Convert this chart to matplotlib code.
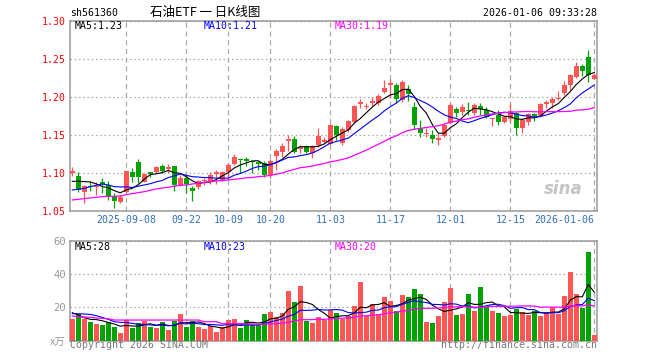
import matplotlib
matplotlib.use("Agg")
import matplotlib.pyplot as plt
import numpy as np
import pandas as pd

# ---------------- data ----------------
holidays = ['2025-10-01', '2025-10-02', '2025-10-03', '2025-10-06', '2025-10-07',
            '2025-10-08', '2026-01-01', '2026-01-02']
dates = [d for d in pd.bdate_range('2025-08-26', '2026-01-06')
         if d.strftime('%Y-%m-%d') not in holidays]

opens = [1.1004, 1.0960, 1.0754, 1.0833, 1.0820, 1.0882, 1.0846, 1.0697, 1.0614, 1.0754,
         1.1018, 1.1145, 1.0886, 1.1008, 1.1008, 1.1092, 1.1053, 1.1092, 1.0842, 1.0939,
         1.0807, 1.0811, 1.0895, 1.0886, 1.0987, 1.0908, 1.1009, 1.1118, 1.1184, 1.1184,
         1.1149, 1.1149, 1.1127, 1.0974, 1.1224, 1.1281, 1.1426, 1.1452, 1.1311, 1.1355,
         1.1268, 1.1368, 1.1412, 1.1382, 1.1623, 1.1390, 1.1566, 1.1675, 1.1904, 1.1864,
         1.1925, 1.1925, 1.2057, 1.2160, 1.2158, 1.1960, 1.2101, 1.1860, 1.1588, 1.1518,
         1.1495, 1.1430, 1.1482, 1.1654, 1.1845, 1.1798, 1.1829, 1.1785, 1.1882, 1.1829,
         1.1711, 1.1763, 1.1675, 1.1706, 1.1794, 1.1588, 1.1675, 1.1772, 1.1754, 1.1912,
         1.1925, 1.1974, 1.2048, 1.2149, 1.2254, 1.2408, 1.2518, 1.2237]
highs = [1.1079, 1.1013, 1.0837, 1.0895, 1.0882, 1.0930, 1.0895, 1.0741, 1.0711, 1.1031,
         1.1061, 1.1184, 1.1004, 1.1018, 1.1092, 1.1118, 1.1114, 1.1092, 1.0974, 1.0974,
         1.0829, 1.0908, 1.0930, 1.1013, 1.1039, 1.1031, 1.1127, 1.1250, 1.1184, 1.1215,
         1.1158, 1.1158, 1.1158, 1.1180, 1.1316, 1.1399, 1.1496, 1.1487, 1.1368, 1.1368,
         1.1368, 1.1588, 1.1478, 1.1640, 1.1632, 1.1610, 1.1697, 1.1890, 1.1974, 1.1925,
         1.1996, 1.2035, 1.2224, 1.2240, 1.2180, 1.2215, 1.2158, 1.1935, 1.1697, 1.1588,
         1.1566, 1.1522, 1.1645, 1.1917, 1.1864, 1.1904, 1.1934, 1.1917, 1.1917, 1.1860,
         1.1728, 1.1829, 1.1741, 1.1917, 1.1807, 1.1728, 1.1785, 1.1785, 1.1917, 1.1961,
         1.2004, 1.2079, 1.2202, 1.2303, 1.2456, 1.2430, 1.2618, 1.2311]
lows = [1.0960, 1.0745, 1.0609, 1.0763, 1.0711, 1.0732, 1.0645, 1.0544, 1.0605, 1.0732,
        1.0877, 1.0864, 1.0877, 1.0943, 1.0996, 1.0996, 1.0996, 1.0767, 1.0829, 1.0741,
        1.0636, 1.0794, 1.0842, 1.0855, 1.0855, 1.0899, 1.0908, 1.1105, 1.0996, 1.1092,
        1.1004, 1.1039, 1.0952, 1.0930, 1.1039, 1.1215, 1.1294, 1.1259, 1.1268, 1.1268,
        1.1202, 1.1338, 1.1390, 1.1368, 1.1434, 1.1368, 1.1544, 1.1662, 1.1851, 1.1838,
        1.1881, 1.1895, 1.2048, 1.1990, 1.1917, 1.1926, 1.1939, 1.1580, 1.1470, 1.1478,
        1.1399, 1.1368, 1.1478, 1.1645, 1.1741, 1.1763, 1.1763, 1.1755, 1.1763, 1.1719,
        1.1623, 1.1632, 1.1662, 1.1675, 1.1500, 1.1522, 1.1632, 1.1684, 1.1741, 1.1851,
        1.1851, 1.1961, 1.2026, 1.2092, 1.2246, 1.2268, 1.2193, 1.2232]
closes = [1.1030, 1.0776, 1.0824, 1.0816, 1.0833, 1.0855, 1.0697, 1.0632, 1.0680, 1.1026,
          1.0952, 1.0943, 1.0987, 1.0982, 1.1079, 1.1031, 1.1083, 1.0842, 1.0939, 1.0855,
          1.0768, 1.0895, 1.0912, 1.0974, 1.1018, 1.1013, 1.1105, 1.1215, 1.1171, 1.1158,
          1.1140, 1.1118, 1.0974, 1.1162, 1.1294, 1.1355, 1.1452, 1.1281, 1.1346, 1.1281,
          1.1355, 1.1487, 1.1434, 1.1632, 1.1500, 1.1575, 1.1684, 1.1881, 1.1934, 1.1881,
          1.1943, 1.2013, 1.2114, 1.2175, 1.1974, 1.2200, 1.2036, 1.1636, 1.1531, 1.1531,
          1.1450, 1.1463, 1.1632, 1.1895, 1.1785, 1.1860, 1.1820, 1.1895, 1.1838, 1.1741,
          1.1728, 1.1675, 1.1741, 1.1816, 1.1588, 1.1697, 1.1772, 1.1754, 1.1908, 1.1930,
          1.1974, 1.1991, 1.2158, 1.2290, 1.2399, 1.2333, 1.2290, 1.2281]
volumes = [13.0, 16.0, 13.0, 11.4, 10.0, 9.4, 11.0, 8.2, 4.8, 12.4,
           7.6, 10.8, 12.0, 8.2, 7.6, 11.4, 6.4, 12.0, 16.0, 8.2,
           12.0, 8.2, 7.0, 8.6, 5.4, 8.4, 12.4, 13.0, 7.8, 12.4,
           9.8, 9.8, 16.0, 17.4, 14.4, 16.6, 29.8, 23.4, 32.8, 12.0,
           10.8, 14.4, 12.4, 18.2, 16.6, 13.0, 15.0, 20.8, 35.2, 14.8,
           22.0, 15.8, 26.2, 23.8, 17.8, 27.4, 26.2, 31.0, 28.0, 11.2,
           10.6, 14.8, 23.2, 31.6, 15.4, 16.0, 28.0, 17.8, 32.2, 20.2,
           17.8, 16.6, 14.8, 15.4, 19.0, 17.2, 15.4, 17.8, 14.8, 17.2,
           20.2, 16.0, 26.8, 41.2, 28.0, 19.6, 53.2, 3.4]

# moving-average values at the start of the window (read from the chart,
# they depend on days before the first visible candle)
ma5_head = [1.0890, 1.0890, 1.0886, 1.0882]
ma10_head = [1.0776, 1.0785, 1.0798, 1.0820, 1.0838, 1.0855, 1.0842, 1.0820, 1.0816]
ma30_head = [1.0645, 1.0654, 1.0662, 1.0671, 1.0680, 1.0689, 1.0693, 1.0693, 1.0697, 1.0715,
             1.0728, 1.0741, 1.0754, 1.0772, 1.0790, 1.0803, 1.0811, 1.0825, 1.0838, 1.0842,
             1.0855, 1.0864, 1.0877, 1.0886, 1.0895, 1.0899, 1.0908, 1.0917, 1.0925]
vma5_head = [16.8, 15.4, 13.8, 12.8]
vma10_head = [16.2, 16.2, 16.0, 15.8, 15.0, 14.0, 12.8, 11.4, 11.0]
vma30_head = [14.8, 14.4, 14.2, 14.0, 13.6, 13.4, 13.2, 12.4, 12.4, 12.4,
              12.4, 12.4, 12.4, 12.4, 12.4, 12.4, 12.4, 12.4, 12.4, 12.4,
              12.4, 12.4, 11.4, 11.4, 11.4, 10.2, 10.2, 10.2, 10.2]

label_dates = ['2025-09-08', '2025-09-22', '2025-10-09', '2025-10-20', '2025-11-03',
               '2025-11-17', '2025-12-01', '2025-12-15', '2026-01-06']
label_texts = ['2025-09-08', '09-22', '10-09', '10-20', '11-03', '11-17', '12-01', '12-15',
               '2026-01-06']
price_ticks = [1.05, 1.10, 1.15, 1.20, 1.25, 1.30]
vol_ticks = [0, 20, 40, 60]
vol_tick_labels = ['x万', '20', '40', '60']

title = '石油ETF 一 日K线图'
code = 'sh561360'
stamp = '2026-01-06 09:33:28'

# ---------------- helpers ----------------
def ma_series(vals, n, head):
    s = pd.Series(vals, dtype=float).rolling(n).mean().to_numpy()
    s[:len(head)] = head
    return s

W, H = 660, 360
UP, DOWN = '#ff5555', '#00a300'
GRID = '#aaaaaa'
MONO = 'DejaVu Sans Mono'
FS = 7.1

def fx(x):
    return x / W

def fy(y):
    return 1 - y / H

idx = np.arange(len(closes))
date_str = [d.strftime('%Y-%m-%d') for d in dates]
label_idx = [date_str.index(d) for d in label_dates]
o = np.array(opens); c = np.array(closes)
hi = np.array(highs); lo = np.array(lows)
colors = [UP if cc >= oo else DOWN for oo, cc in zip(o, c)]

fig = plt.figure(figsize=(W / 100, H / 100), dpi=100)
ax = fig.add_axes([fx(70), fy(211), fx(527), (211 - 20.7) / H])
vax = fig.add_axes([fx(70), fy(340.7), fx(527), 100 / H])

xl = (-0.38, len(closes) - 1 + 0.45)

# ---- price panel ----
ax.vlines(idx, lo, hi, colors=colors, linewidth=0.9, zorder=3)
body_h = np.maximum(np.abs(c - o), 0.0012)
ax.bar(idx, body_h, bottom=np.minimum(o, c), width=0.8, color=colors,
       linewidth=0, zorder=4)
ax.plot(idx, ma_series(closes, 5, ma5_head), color='black', lw=0.8, zorder=5)
ax.plot(idx, ma_series(closes, 10, ma10_head), color='#0000ff', lw=0.8, zorder=5)
ax.plot(idx, ma_series(closes, 30, ma30_head), color='#ff00ff', lw=0.9, zorder=5)
ax.set_xlim(*xl)
ax.set_ylim(1.05, 1.30)
ax.set_yticks(price_ticks)
ax.set_yticklabels([f'{t:.2f}' for t in price_ticks], color='#ff0000',
                   fontsize=FS, family=MONO)
ax.set_xticks(label_idx)
ax.set_xticklabels(label_texts, color='#2f6fbf', fontsize=FS, family=MONO)
xt = ax.get_xticklabels()
xt[-1].set_ha('right')
ax.tick_params(axis='both', length=0, pad=3)
ax.yaxis.grid(True, linestyle=(0, (1.2, 2.2)), color=GRID, lw=0.9)
ax.xaxis.grid(True, linestyle=(0, (4, 3)), color=GRID, lw=0.9)
ax.set_axisbelow(True)
for s in ax.spines.values():
    s.set_color('#999999'); s.set_linewidth(1.1)

ax.text(0.0095, 0.972, 'MA5:1.23', transform=ax.transAxes, color='black',
        fontsize=FS, family=MONO, va='center')
ax.text(0.2543, 0.972, 'MA10:1.21', transform=ax.transAxes, color='#0000ff',
        fontsize=FS, family=MONO, va='center')
ax.text(0.5028, 0.972, 'MA30:1.19', transform=ax.transAxes, color='#ff00ff',
        fontsize=FS, family=MONO, va='center')
ax.text(0.972, 0.07, 'sina', transform=ax.transAxes, color='#c4c4c4',
        fontsize=12, fontweight='bold', style='italic', ha='right', va='bottom',
        zorder=1)

# ---- volume panel ----
vax.bar(idx, volumes, width=0.82, color=colors, linewidth=0, zorder=3)
vax.plot(idx, ma_series(volumes, 5, vma5_head), color='black', lw=0.8, zorder=5)
vax.plot(idx, ma_series(volumes, 10, vma10_head), color='#0000ff', lw=0.8, zorder=5)
vax.plot(idx, ma_series(volumes, 30, vma30_head), color='#ff00ff', lw=0.9, zorder=5)
vax.set_xlim(*xl)
vax.set_ylim(0, 60)
vax.set_yticks(vol_ticks)
vax.set_yticklabels(vol_tick_labels, color='#999999', fontsize=FS + 0.5, family=MONO)
vax.get_yticklabels()[0].set_family(['Noto Sans CJK SC', 'DejaVu Sans'])
vax.set_xticks(label_idx)
vax.set_xticklabels([])
vax.tick_params(axis='both', length=0, pad=3)
vax.yaxis.grid(True, linestyle=(0, (1.2, 2.2)), color=GRID, lw=0.9)
vax.xaxis.grid(True, linestyle=(0, (4, 3)), color=GRID, lw=0.9)
vax.set_axisbelow(True)
for s in vax.spines.values():
    s.set_color('#999999'); s.set_linewidth(1.1)

vax.text(0.0095, 0.94, 'MA5:28', transform=vax.transAxes, color='black',
         fontsize=FS, family=MONO, va='center')
vax.text(0.2543, 0.94, 'MA10:23', transform=vax.transAxes, color='#0000ff',
         fontsize=FS, family=MONO, va='center')
vax.text(0.5028, 0.94, 'MA30:20', transform=vax.transAxes, color='#ff00ff',
         fontsize=FS, family=MONO, va='center')

# ---- header / footer ----
fig.text(fx(70), fy(13), code, fontsize=FS, family=MONO, color='black', va='center')
fig.text(fx(150), fy(12.5), title, fontsize=9, color='black', va='center',
         family=['Noto Sans CJK SC', 'DejaVu Sans'])
fig.text(fx(597), fy(13), stamp, fontsize=FS, family=MONO, color='black',
         va='center', ha='right')
fig.text(fx(70), fy(345.5), 'Copyright 2026 SINA.COM', fontsize=FS, family=MONO,
         color='#777777', va='center')
fig.text(fx(597), fy(345.5), 'http://finance.sina.com.cn', fontsize=FS, family=MONO,
         color='#777777', va='center', ha='right')

fig.savefig('out.png', dpi=100, facecolor='white')
